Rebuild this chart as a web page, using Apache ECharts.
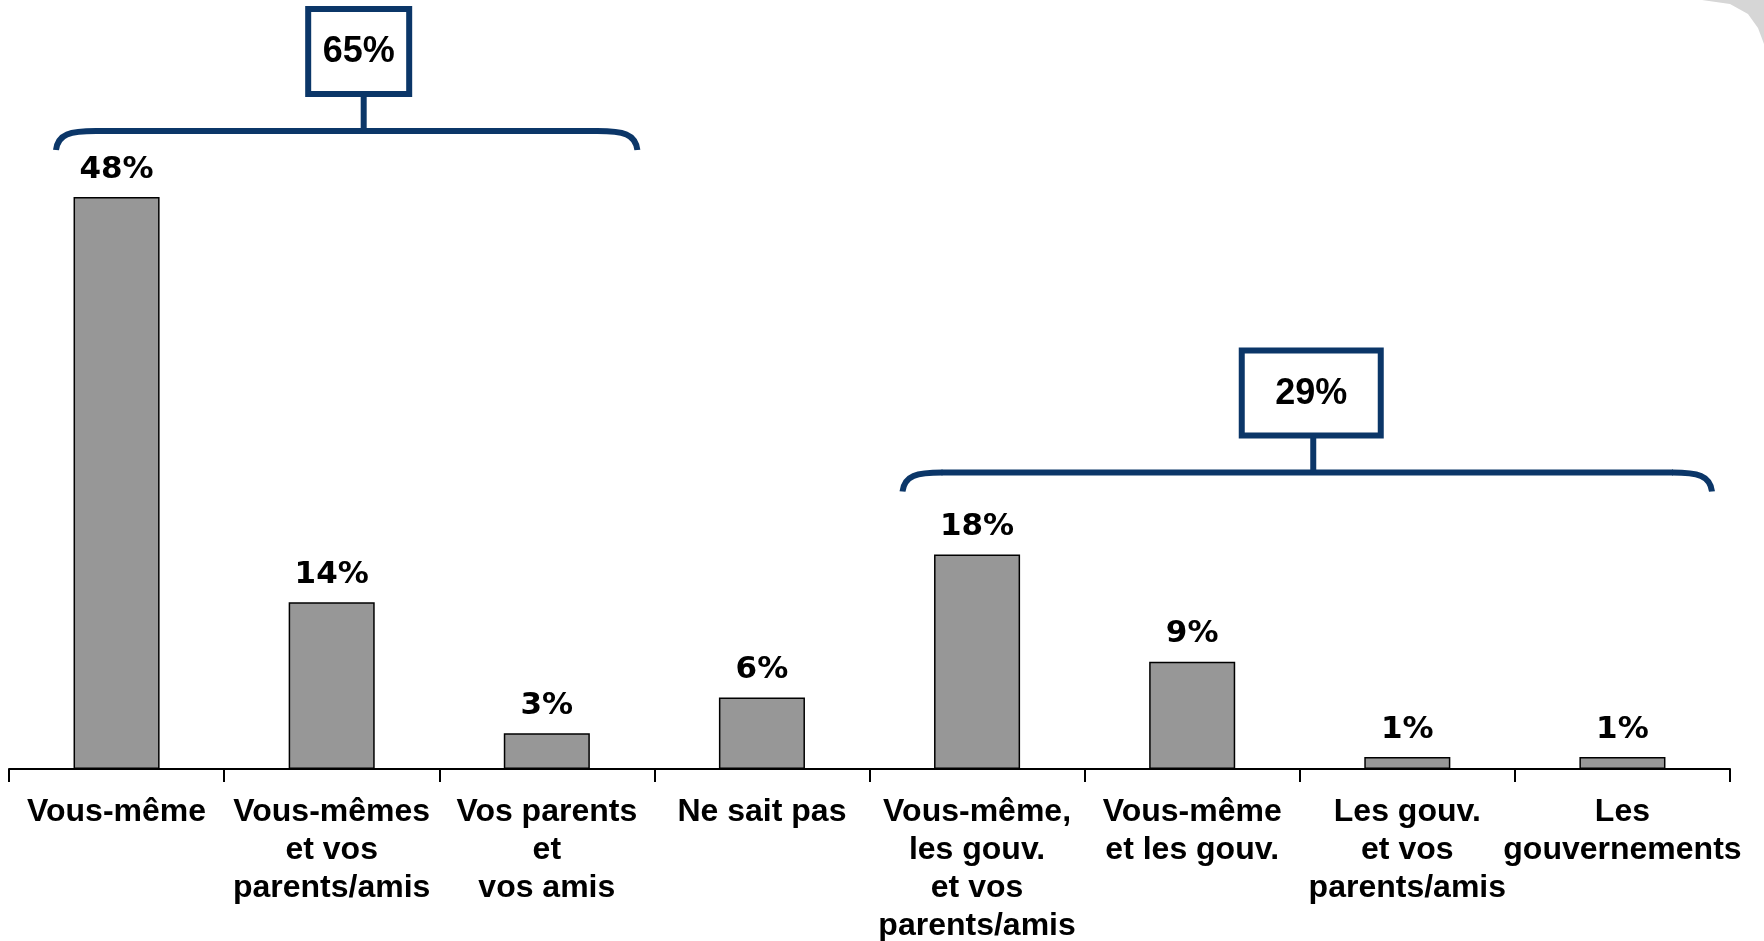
<!DOCTYPE html>
<html><head><meta charset="utf-8">
<script src="https://cdn.jsdelivr.net/npm/echarts@6/dist/echarts.min.js"></script>
<style>html,body{margin:0;padding:0;background:#fff}#c{width:1764px;height:941px}</style>
</head><body><div id="c"></div>
<script>
const categories = [
  'Vous-même',
  'Vous-mêmes\net vos\nparents/amis',
  'Vos parents\net\nvos amis',
  'Ne sait pas',
  'Vous-même,\nles gouv.\net vos\nparents/amis',
  'Vous-même\net les gouv.',
  'Les gouv.\net vos\nparents/amis',
  'Les\ngouvernements'
];
const values = [48, 14, 3, 6, 18, 9, 1, 1];
const groupLabels = ['65%', '29%'];
const groupStart = [0, 4];
const groupEnd = [2, 7];

const NAVY = '#0b3668';
const LABEL_FONT = '"Liberation Sans", Arial, sans-serif';
const chart = echarts.init(document.getElementById('c'));
chart.setOption({
  animation: false,
  backgroundColor: '#fff',
  grid: { left: 9, right: 34, top: 54, bottom: 172, containLabel: false, outerBoundsMode: 'none' },
  xAxis: {
    type: 'category', data: categories,
    axisLine: { show: true, lineStyle: { color: '#000', width: 2 } },
    axisTick: { show: true, length: 13, alignWithLabel: false, lineStyle: { color: '#000', width: 2 } },
    axisLabel: {
      interval: 0, margin: 24, color: '#000', hideOverlap: false,
      fontFamily: LABEL_FONT, fontWeight: 'bold', fontSize: 32, lineHeight: 38
    }
  },
  yAxis: { type: 'value', min: 0, max: 60, show: false, splitLine: { show: false } },
  series: [{
    type: 'bar', data: values, barWidth: '40%',
    itemStyle: { color: '#979797', borderColor: '#000', borderWidth: 1.5 },
    label: {
      show: true, position: 'top', distance: 12, formatter: '{c}%',
      color: '#000', fontFamily: '"DejaVu Sans", sans-serif', fontWeight: 'bold', fontSize: 31
    }
  }]
});

// Group brackets (layout offsets only; positions derived from axes)
const braceAbove = [66, 82];      // px above tallest bar top
const leftInset = [47, 33];
const rightInset = [17, 18];
const boxW = [101, 139];
const boxH = 85;
const stemLen = 37;
const stemShift = [17, 6];
const boxShift = [-5, -2];
const graphics = [];
const P = (i, v) => chart.convertToPixel({ xAxisIndex: 0, yAxisIndex: 0 }, [i, v]);
for (let g = 0; g < groupLabels.length; g++) {
  const band = P(1, 0)[0] - P(0, 0)[0];
  const s = P(groupStart[g], 0);
  const e = P(groupEnd[g], 0);
  let maxV = 0;
  for (let i = groupStart[g]; i <= groupEnd[g]; i++) maxV = Math.max(maxV, values[i]);
  const top = P(groupStart[g], maxV)[1];
  const x1 = s[0] - band / 2 + leftInset[g];
  const x2 = e[0] + band / 2 - rightInset[g];
  const yT = top - braceAbove[g];
  const yE = yT + 19;
  const mid = (x1 + x2) / 2 + stemShift[g];
  const bc = mid + boxShift[g];
  const lineStyle = { stroke: NAVY, lineWidth: 6, fill: null };
  graphics.push({
    type: 'bezierCurve', z: 10,
    shape: { x1: x1, y1: yE, cpx1: x1 + 2, cpy1: yT + 3, cpx2: x1 + 14, cpy2: yT, x2: x1 + 40, y2: yT },
    style: lineStyle
  });
  graphics.push({
    type: 'line', z: 10,
    shape: { x1: x1 + 39, y1: yT, x2: x2 - 39, y2: yT },
    style: lineStyle
  });
  graphics.push({
    type: 'bezierCurve', z: 10,
    shape: { x1: x2, y1: yE, cpx1: x2 - 2, cpy1: yT + 3, cpx2: x2 - 14, cpy2: yT, x2: x2 - 40, y2: yT },
    style: lineStyle
  });
  graphics.push({
    type: 'line', z: 10,
    shape: { x1: mid, y1: yT, x2: mid, y2: yT - stemLen },
    style: lineStyle
  });
  graphics.push({
    type: 'rect', z: 11,
    shape: { x: bc - boxW[g] / 2, y: yT - stemLen - boxH, width: boxW[g], height: boxH },
    style: { fill: '#fff', stroke: NAVY, lineWidth: 6 }
  });
  graphics.push({
    type: 'text', z: 12,
    x: bc, y: yT - stemLen - boxH / 2 + 1,
    style: {
      text: groupLabels[g], align: 'center', verticalAlign: 'middle', fill: '#000',
      font: 'bold 36px ' + LABEL_FONT
    }
  });
}
// slide frame corner
graphics.push({
  type: 'polygon', z: 1,
  shape: { points: [[1702, 0], [1730, 4], [1748, 14], [1758, 28], [1764, 44], [1764, 0]] },
  style: { fill: '#d6d6d6' }
});
chart.setOption({ graphic: graphics });
</script></body></html>
